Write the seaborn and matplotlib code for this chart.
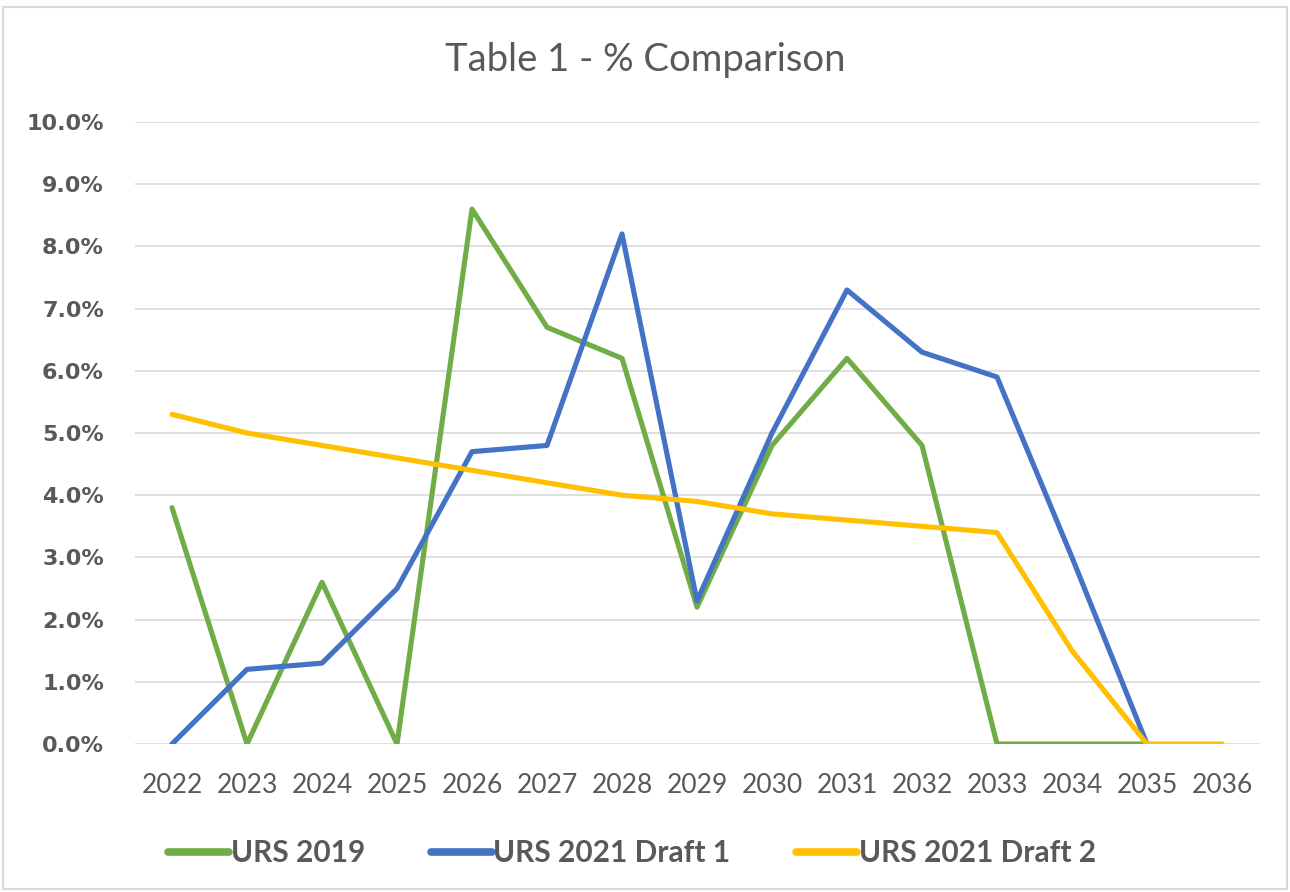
import numpy as np
import pandas as pd
import matplotlib
matplotlib.use("Agg")
import matplotlib.pyplot as plt
import seaborn as sns
from matplotlib.ticker import FuncFormatter, MultipleLocator
from matplotlib.patches import Rectangle

# values (in %)
years = list(range(2022, 2037))
urs_2019 = [3.8, 0.0, 2.6, 0.0, 8.6, 6.7, 6.2, 2.2, 4.8, 6.2, 4.8, 0.0, 0.0, 0.0, np.nan]
urs_2021_d1 = [0.0, 1.2, 1.3, 2.5, 4.7, 4.8, 8.2, 2.3, 5.0, 7.3, 6.3, 5.9, 3.0, 0.0, np.nan]
urs_2021_d2 = [5.3, 5.0, 4.8, 4.6, 4.4, 4.2, 4.0, 3.9, 3.7, 3.6, 3.5, 3.4, 1.5, 0.0, 0.0]

series_names = ["URS 2019", "URS 2021 Draft 1", "URS 2021 Draft 2"]
series_colors = ["#70AD47", "#4472C4", "#FFC000"]

df = pd.concat([
    pd.DataFrame({"year": years, "pct": vals, "series": name})
    for name, vals in zip(series_names, [urs_2019, urs_2021_d1, urs_2021_d2])
], ignore_index=True)

sns.set_theme(style="white")
plt.rcParams["font.family"] = ["Lato", "DejaVu Sans"]

text_grey = "#595959"
grid_grey = "#D9D9D9"

fig = plt.figure(figsize=(12.9, 8.92), dpi=100)
W, H = 1290, 892
ax = fig.add_axes([134.5 / W, 1 - 744 / H, (1259.5 - 134.5) / W, (744 - 122) / H])

sns.lineplot(data=df, x="year", y="pct", hue="series", hue_order=series_names,
             palette=series_colors, linewidth=3.7, ax=ax, legend=True)

ax.set_xlim(2021.5, 2036.5)
ax.set_ylim(0, 10)
ax.set_xticks(years)
ax.set_xticklabels([str(y) for y in years])
ax.yaxis.set_major_locator(MultipleLocator(1))
ax.yaxis.set_major_formatter(FuncFormatter(lambda v, p: f"{v:.1f}%"))
ax.grid(axis="y", color=grid_grey, linewidth=1.2)
ax.set_axisbelow(True)
for s in ax.spines.values():
    s.set_visible(False)
ax.tick_params(axis="both", length=0)
ax.tick_params(axis="x", labelsize=19, labelcolor=text_grey, pad=21)
ax.tick_params(axis="y", labelcolor=text_grey, pad=22)
for lbl in ax.get_yticklabels():
    lbl.set_fontfamily("DejaVu Sans")
    lbl.set_fontweight("bold")
    lbl.set_fontsize(16)
ax.set_xlabel("")
ax.set_ylabel("")

handles, labels = ax.get_legend_handles_labels()
ax.get_legend().remove()
leg = fig.legend(handles, labels, loc="center", bbox_to_anchor=(0.49, 1 - 853 / H),
                 ncol=3, frameon=False, handlelength=2.05, handletextpad=0.05,
                 columnspacing=2.2, prop={"size": 21.5, "weight": "bold"})
for t in leg.get_texts():
    t.set_color(text_grey)
for h in leg.legend_handles:
    h.set_linewidth(5.5)

fig.text(0.5, 1 - 60 / H, "Table 1 - % Comparison", ha="center", va="center",
         fontsize=27.5, color=text_grey)

fig.patches.append(Rectangle((3 / W, 3 / H), 1284 / W, 882 / H, transform=fig.transFigure,
                             fill=False, edgecolor=grid_grey, linewidth=1.5))

fig.savefig("out.png", dpi=100)
